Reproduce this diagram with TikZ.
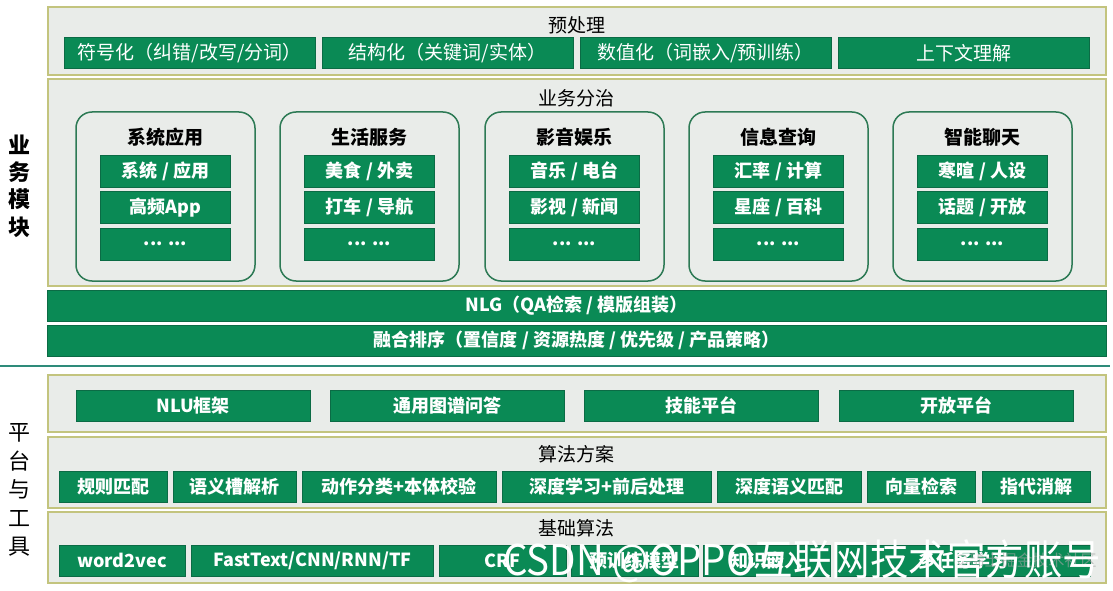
\documentclass[tikz,border=0pt]{standalone}
\usepackage{fontspec}
\setmainfont{Noto Sans CJK SC}
\usetikzlibrary{positioning}
\definecolor{boxgreen}{HTML}{0A8A55}
\definecolor{boxedge}{HTML}{0B6B45}
\definecolor{panelfill}{HTML}{E9ECE9}
\definecolor{paneledge}{HTML}{C3C47E}
\definecolor{cardedge}{HTML}{2D7A55}
\definecolor{sepline}{HTML}{2E8B7A}
\begin{document}
\begin{tikzpicture}[x=1pt,y=-1pt,font=\fontsize{19}{22}\selectfont,
  panel/.style={draw=paneledge,line width=2pt,fill=panelfill,inner sep=0pt},
  gbox/.style={draw=boxedge,line width=1pt,fill=boxgreen,text=white,inner sep=0pt,minimum height=31pt},
  bbox/.style={gbox,font=\fontsize{18}{22}\selectfont\bfseries},
  card/.style={draw=cardedge,line width=1.5pt,rounded corners=16pt,inner sep=0pt,minimum width=179pt,minimum height=169pt},
  ctitle/.style={font=\fontsize{19}{22}\selectfont\bfseries},
  ibox/.style={bbox,minimum width=130pt,minimum height=32pt},
  ptitle/.style={font=\fontsize{19}{22}\selectfont},
  side/.style={align=center,inner sep=0pt}]
\fill[white] (0,0) rectangle (1113,591);
\useasboundingbox (0,0) rectangle (1113,591);
%\draw[help lines,step=50] (0,0) grid (1113,591);

% pre-processing
\node (pre) [panel,minimum width=1058.5pt,minimum height=68pt] at (576.75,41) {};
\node (pret) [ptitle] at (576.75,25) {预处理};
\node (sym) [gbox,minimum width=251pt] at (189.5,53.5) {符号化（纠错/改写/分词）};
\node (struct) [gbox,minimum width=251pt] at (447.5,53.5) {结构化（关键词/实体）};
\node (num) [gbox,minimum width=251pt] at (705.5,53.5) {数值化（词嵌入/预训练）};
\node (ctx) [gbox,minimum width=251pt] at (963.5,53.5) {上下文理解};

% business
\node (biz) [panel,minimum width=1058.5pt,minimum height=207pt] at (576.75,182.5) {};
\node (bizt) [ptitle] at (576.75,98) {业务分治};
\node (c1) [card] at (165.5,196.5) {};
\node (c1t) [ctitle] at (165.5,137) {系统应用};
\node (c1a) [ibox] at (165.5,171) {系统 / 应用};
\node (c1b) [ibox] at (165.5,207.5) {高频App};
\node (c1c) [ibox] at (165.5,244) {... ...};
\node (c2) [card] at (369.5,196.5) {};
\node (c2t) [ctitle] at (369.5,137) {生活服务};
\node (c2a) [ibox] at (369.5,171) {美食 / 外卖};
\node (c2b) [ibox] at (369.5,207.5) {打车 / 导航};
\node (c2c) [ibox] at (369.5,244) {... ...};
\node (c3) [card] at (574.5,196.5) {};
\node (c3t) [ctitle] at (574.5,137) {影音娱乐};
\node (c3a) [ibox] at (574.5,171) {音乐 / 电台};
\node (c3b) [ibox] at (574.5,207.5) {影视 / 新闻};
\node (c3c) [ibox] at (574.5,244) {... ...};
\node (c4) [card] at (778.5,196.5) {};
\node (c4t) [ctitle] at (778.5,137) {信息查询};
\node (c4a) [ibox] at (778.5,171) {汇率 / 计算};
\node (c4b) [ibox] at (778.5,207.5) {星座 / 百科};
\node (c4c) [ibox] at (778.5,244) {... ...};
\node (c5) [card] at (982.5,196.5) {};
\node (c5t) [ctitle] at (982.5,137) {智能聊天};
\node (c5a) [ibox] at (982.5,171) {寒暄 / 人设};
\node (c5b) [ibox] at (982.5,207.5) {话题 / 开放};
\node (c5c) [ibox] at (982.5,244) {... ...};

\node (nlg) [bbox,minimum width=1058.5pt] at (576.75,305.5) {NLG（QA检索 / 模版组装）};
\node (rank) [bbox,minimum width=1058.5pt] at (576.75,340.5) {融合排序（置信度 / 资源热度 / 优先级 / 产品策略）};

\coordinate (sepL) at (0,366);
\coordinate (sepR) at (1110,366);
\draw[sepline,line width=1.5pt] (sepL) -- (sepR);

% platform
\node (plat) [panel,minimum width=1058.5pt,minimum height=57pt] at (576.75,403.5) {};
\node (nlu) [bbox,minimum width=234pt] at (193,405.5) {NLU框架};
\node (kgqa) [bbox,minimum width=234pt] at (447,405.5) {通用图谱问答};
\node (skill) [bbox,minimum width=234pt] at (701.5,405.5) {技能平台};
\node (open) [bbox,minimum width=234pt] at (956,405.5) {开放平台};

% algorithm schemes
\node (alg) [panel,minimum width=1058.5pt,minimum height=71pt] at (576.75,472.5) {};
\node (algt) [ptitle] at (576.75,454) {算法方案};
\node (rule) [bbox,minimum width=108pt] at (113,486.5) {规则匹配};
\node (slot) [bbox,minimum width=123pt] at (234.5,486.5) {语义槽解析};
\node (act) [bbox,minimum width=194pt] at (399,486.5) {动作分类+本体校验};
\node (dl) [bbox,minimum width=208.5pt] at (606.75,486.5) {深度学习+前后处理};
\node (sem) [bbox,minimum width=144pt] at (789,486.5) {深度语义匹配};
\node (vec) [bbox,minimum width=108.5pt] at (921.25,486.5) {向量检索};
\node (coref) [bbox,minimum width=108pt] at (1036,486.5) {指代消解};

% base algorithms
\node (base) [panel,minimum width=1058.5pt,minimum height=71pt] at (576.75,547.5) {};
\node (baset) [ptitle] at (576.75,528) {基础算法};
\node (w2v) [bbox,minimum width=126pt] at (122,560.5) {word2vec};
\node (ft) [bbox,minimum width=242.5pt] at (312.25,560.5) {FastText/CNN/RNN/TF};
\node (crf) [bbox,minimum width=127pt] at (502.5,560.5) {CRF};
\node (pre2) [bbox,minimum width=127pt] at (634.5,560.5) {预训练模型};
\node (kemb) [bbox,minimum width=127pt] at (766.5,560.5) {知识嵌入};
\node (mtl) [bbox,minimum width=254pt] at (963,560.5) {多任务学习};

% side labels
\node (lbiz) [side,font=\fontsize{22}{27.4}\selectfont\bfseries] at (20,186) {业\\务\\模\\块};
\node (lplat) [side,font=\fontsize{22}{28.5}\selectfont] at (20,490) {平\\台\\与\\工\\具};

% watermarks
\node (wm2) [anchor=base west,text=gray!70,opacity=.6,font=\fontsize{16}{16}\selectfont] at (950,566) {@稀土掘金技术社区};
\node (wm) [anchor=base west,text=white,inner sep=0pt,font=\fontsize{38.5}{40}\selectfont] at (503,575) {\scalebox{1}[1.1]{CSDN @OPPO互联网技术官方账号}};
\end{tikzpicture}
\end{document}
